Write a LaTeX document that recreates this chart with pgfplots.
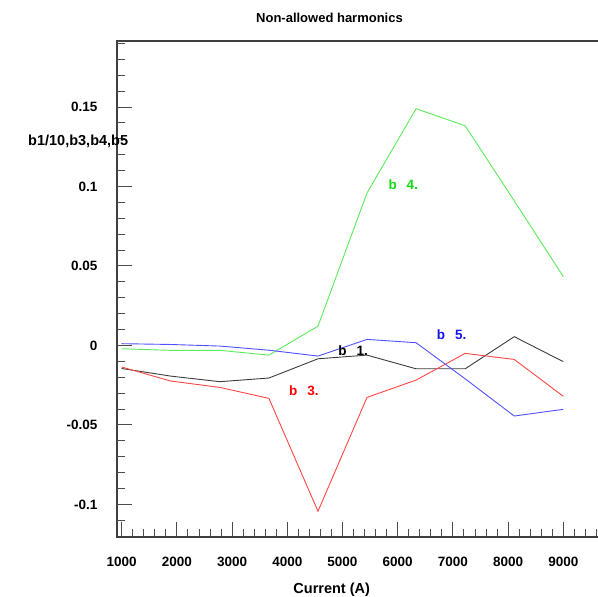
\documentclass[border=0pt]{standalone}
\usepackage{pgfplots}
\pgfplotsset{compat=1.18}
\usepackage{fontspec}
\setmainfont{Liberation Sans}
\definecolor{lgreen}{RGB}{90,235,90}
\definecolor{lred}{RGB}{255,70,70}
\definecolor{lblue}{RGB}{80,80,255}
\definecolor{lblack}{RGB}{60,60,60}
\definecolor{tgreen}{RGB}{20,220,20}
\definecolor{tblue}{RGB}{20,20,235}
\begin{document}
\begin{tikzpicture}[x=1pt,y=1pt]
\path[use as bounding box] (-117,-60) rectangle (481,537);
\begin{axis}[at={(0,0)}, anchor=south west, scale only axis,
  width=484pt, height=496pt,
  xmin=915, xmax=9683, ymin=-0.1205, ymax=0.1915,
  axis line style={black!75, line width=1.1pt},
  xtick={1000,2000,...,9000},
  xticklabels={1000,2000,3000,4000,5000,6000,7000,8000,9000},
  minor xtick={1200,1400,1600,1800,2200,2400,2600,2800,3200,3400,3600,3800,4200,4400,4600,4800,5200,5400,5600,5800,6200,6400,6600,6800,7200,7400,7600,7800,8200,8400,8600,8800,9200,9400,9600},
  ytick={-0.1,-0.05,0,0.05,0.1,0.15},
  yticklabels={-0.1,-0.05,0,0.05,0.1,0.15},
  minor ytick={-0.12,-0.11,-0.09,-0.08,-0.07,-0.06,-0.04,-0.03,-0.02,-0.01,0.01,0.02,0.03,0.04,0.06,0.07,0.08,0.09,0.11,0.12,0.13,0.14,0.16,0.17,0.18,0.19},
  xtick pos=bottom, ytick pos=left, tick align=inside,
  major tick length=15pt, minor tick length=8pt,
  every tick/.style={black!70, line width=0.9pt},
  tick label style={font=\fontsize{13.5}{15}\selectfont\bfseries, inner sep=0pt},
  yticklabel shift=19.5pt, xticklabel shift=20pt,
  clip=true,
]
\addplot[lblack, line width=0.9pt] coordinates {(1000,-0.0145) (1889,-0.0193) (2778,-0.0228) (3667,-0.0205) (4556,-0.0084) (5444,-0.0061) (6333,-0.0147) (7222,-0.0147) (8111,0.0055) (9000,-0.0102)};
\addplot[lred, line width=0.9pt] coordinates {(1000,-0.0136) (1889,-0.0224) (2778,-0.0264) (3667,-0.0333) (4556,-0.1043) (5444,-0.0327) (6333,-0.0218) (7222,-0.0050) (8111,-0.0088) (9000,-0.0320)};
\addplot[lgreen, line width=0.9pt] coordinates {(1000,-0.0021) (1889,-0.0031) (2778,-0.0031) (3667,-0.0061) (4556,0.0121) (5444,0.0959) (6333,0.1489) (7222,0.1382) (8111,0.0910) (9000,0.0433)};
\addplot[lblue, line width=0.9pt] coordinates {(1000,0.0011) (1889,0.0006) (2778,-0.0004) (3667,-0.0030) (4556,-0.0067) (5444,0.0038) (6333,0.0017) (7222,-0.0210) (8111,-0.0444) (9000,-0.0402)};
\node[anchor=west, inner sep=0pt, red, font=\fontsize{13.5}{15}\selectfont\bfseries] at (axis cs:4031,-0.0285) {b\hspace{10pt}3.};
\node[anchor=west, inner sep=0pt, black, font=\fontsize{13.5}{15}\selectfont\bfseries] at (axis cs:4924,-0.0033) {b\hspace{10pt}1.};
\node[anchor=west, inner sep=0pt, tblue, font=\fontsize{13.5}{15}\selectfont\bfseries] at (axis cs:6707,0.0070) {b\hspace{10pt}5.};
\node[anchor=west, inner sep=0pt, tgreen, font=\fontsize{13.5}{15}\selectfont\bfseries] at (axis cs:5830,0.1013) {b\hspace{10pt}4.};
\end{axis}
\node[inner sep=0pt, font=\fontsize{13}{15}\selectfont\bfseries] at (212.5,519) {Non-allowed harmonics};
\node[inner sep=0pt, font=\fontsize{14.5}{16}\selectfont\bfseries] at (214.7,-53) {Current (A)};
\node[anchor=west, inner sep=0pt, font=\fontsize{14.5}{16}\selectfont\bfseries] at (-89,395.3) {b1/10,b3,b4,b5};
\end{tikzpicture}
\end{document}
